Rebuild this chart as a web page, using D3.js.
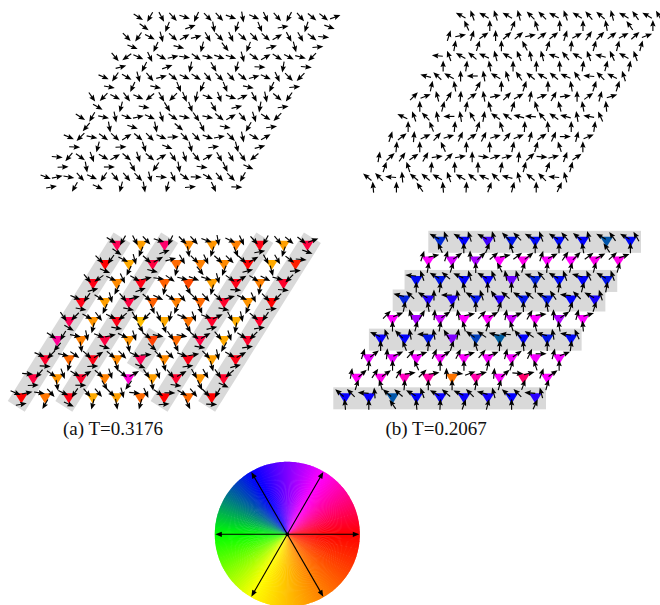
<!DOCTYPE html>
<html><head><meta charset="utf-8">
<style>html,body{margin:0;padding:0;background:#fff}svg{display:block}text{font-family:"Liberation Serif",serif}</style>
<script src="https://cdnjs.cloudflare.com/ajax/libs/d3/7.8.5/d3.min.js"></script>
</head><body><div id="chart"></div>
<script>
// Spin directions in degrees (counter-clockwise from east), rows bottom to top.
const spinPairsA = [
[-22,12,-10,-48,-25,-125,-50,-50,-45,-75,-5,-65,-35,-2,-30,-50,-45,-120],
[-5,-130,-35,-70,-30,30,-40,-72,-40,30,-55,-72,-50,30,-60,-60,-55,-140],
[-23,-135,-12,-35,-42,32,-40,-45,-25,3,-45,-45,-20,10,-45,-78,-30,30],
[-32,-120,-12,-78,-22,12,-25,-72,-35,-12,-55,-12,-40,30,-50,-72,-32,-135],
[-55,-135,-28,-53,-25,-140,-60,-135,-68,-102,-22,-70,-20,25,-62,-78,-40,-125],
[-23,-125,-30,-75,-50,15,-40,-25,-32,-50,-45,-48,-40,16,-25,-65,-45,-135],
[-50,-145,-25,-65,-30,13,-8,-35,-14,-20,-18,-75,-35,30,-32,-28,-15,-135],
[-45,-125,-28,-75,-42,30,15,-60,-45,-65,-42,-45,-42,30,-62,-60,-38,-5],
[-32,-120,-62,-47,-18,-115,-45,-47,-20,-80,-25,-65,-48,-118,-50,-40,-38,20]
];
const spinLowerA = [
[10,-120,-25,-105,-80,-105,5,-65,-2],
[3,-80,0,-60,-125,-80,-8,-65,-25],
[-3,-105,3,-72,-22,-75,8,-75,15],
[-130,-80,-18,-78,-40,-65,-10,-120,8],
[-30,-105,-10,-58,-70,-60,14,-100,8],
[-10,-115,-12,-68,-113,-68,-12,-115,5],
[15,-117,20,-102,-60,-105,-3,-100,-5],
[-22,-115,-15,-105,-52,-112,15,-75,5],
[-35,-112,20,-80,-108,-68,10,-108,-20]
];
const spinPairsB = [
[140,135,175,95,140,140,150,110,150,140,155,135,165,105,140,135,175,105],
[80,42,55,35,60,8,45,10,90,-8,20,15,85,42,-5,15,70,35],
[72,38,85,25,48,18,65,35,63,17,50,22,75,35,65,0,75,22],
[155,110,135,100,180,100,120,80,145,145,165,175,130,145,165,100,170,115],
[45,22,105,60,85,35,100,12,45,30,80,22,60,7,90,35,75,17],
[165,137,150,90,180,100,150,108,125,140,150,140,155,125,175,135,152,108],
[175,110,150,140,155,105,150,112,100,105,160,130,150,110,165,115,150,110],
[72,12,72,35,90,42,40,12,37,38,72,28,55,45,37,28,42,20],
[152,110,150,108,150,105,135,135,152,110,148,130,140,105,150,125,150,120]
];
const spinLowerB = [
[95,90,125,95,87,70,75,90,65],
[72,108,85,90,90,80,75,70,75],
[85,90,115,90,90,78,73,108,90],
[90,112,85,72,108,87,95,90,82],
[90,75,80,105,72,108,105,100,95],
[78,100,62,90,72,90,100,72,72],
[90,82,100,90,90,92,82,75,80],
[80,72,90,118,72,85,75,75,75],
[115,90,68,108,90,90,100,125,90]
];
// Triangle colours expressed as an angle on the colour wheel, rows bottom to top.
const wheelAngleA = [
[0,305,5,280,285,310,0,310,0],
[15,290,10,300,50,285,10,290,10],
[10,310,5,295,20,295,5,285,5],
[35,300,15,290,330,310,15,280,10],
[20,290,5,270,280,305,10,278,10],
[5,285,15,315,300,310,10,290,0],
[5,295,5,315,325,285,5,300,10],
[0,280,15,310,300,295,0,280,345],
[20,285,25,295,290,300,5,285,15]
];
const wheelAngleB = [
[118,118,140,120,118,118,115,120,110],
[58,55,45,40,305,40,60,25,60],
[65,65,62,62,60,62,62,62,62],
[118,120,125,90,135,142,120,125,122],
[60,80,72,60,60,72,60,78,60],
[128,112,112,125,110,125,125,120,115],
[122,125,120,118,95,128,122,120,125],
[60,70,80,60,55,60,60,55,55],
[130,120,105,125,122,122,120,140,122]
];
const bandColumnsA = [0,2,6,8];
const partialBandColumnA = 4, partialBandRowsA = [2,3];
const bandRowsB = [0,3,5,6,8];
const wheelStops = [0,60,120,180,240,360];
const wheelColors = ["#ff0000","#ff00ff","#0000ff","#00ff00","#ffff00","#ff0000"];
const wheelArrows = [0,60,120,180,240,300];
const captions = ["(a) T=0.3176","(b) T=0.2067"];

const W=660,H=605;
const svg=d3.select("#chart").append("svg").attr("width",W).attr("height",H).attr("viewBox",`0 0 ${W} ${H}`);
const wheelColor=d3.scaleLinear().domain(wheelStops).range(wheelColors).interpolate(d3.interpolateRgb);
const norm=a=>((a%360)+360)%360;
const rowScale=(y0,dy)=>d3.scaleLinear().domain([0,8]).range([y0,y0+8*dy]);
const idx=d3.range(9);

function arrow(g,x,y,deg,L=11,hl=6.6,hw=2.7,sw=1.15){
  const p=d3.path();
  p.moveTo(L/2,0);p.lineTo(L/2-hl,-hw);p.lineTo(L/2-hl+1,0);p.lineTo(L/2-hl,hw);p.closePath();
  const a=g.append("g").attr("transform",`translate(${x},${y}) rotate(${-deg})`);
  a.append("line").attr("x1",-L/2).attr("x2",L/2-hl+1.2).attr("y1",0).attr("y2",0).attr("stroke","#000").attr("stroke-width",sw);
  a.append("path").attr("d",p.toString()).attr("fill","#000");
}

function lattice(x0,dx,shift,y0,dy,pairs,lower){
  const g=svg.append("g");
  const ys=rowScale(y0,dy);
  const xs=d3.scaleLinear().domain([0,1]).range([x0,x0+dx]);
  idx.forEach(j=>idx.forEach(i=>{
    const cellX=v=>xs(i+j*shift/dx+v);
    arrow(g,cellX(0),ys(j),pairs[j][2*i]);
    arrow(g,cellX(0.5),ys(j),pairs[j][2*i+1]);
    arrow(g,cellX(0.25),ys(j)+dy/2*-1,lower[j][i]);
  }));
}
// rows run upward: dy negative; the lower site sits half a row below its pair
lattice(45.7,23.17,11.58,177,-20,spinPairsA,spinLowerA);
lattice(367.3,23.3,11.67,177,-20.2,spinPairsB,spinLowerB);

function triangles(x0,dx,shift,y0,dy,pairs,lower,hues,drawBands){
  const ys=rowScale(y0,dy);
  const xs=d3.scaleLinear().domain([0,8]).range([x0,x0+8*dx]);
  const cx=(i,j)=>xs(i)+j*shift;
  const gb=svg.append("g"); drawBands(gb,cx,ys);
  const gt=svg.append("g"), ga=svg.append("g");
  idx.forEach(j=>idx.forEach(i=>{
    const X=cx(i,j),Y=ys(j);
    gt.append("path").attr("d",d3.line()([[X-6.4,Y-5],[X+6.4,Y-5],[X,Y+5.2]])+"Z")
      .attr("fill",wheelColor(norm(hues[j][i])));
    arrow(ga,X-5.6,Y-5.4,pairs[j][2*i]);
    arrow(ga,X+5.8,Y-5.4,pairs[j][2*i+1]);
    arrow(ga,X,Y+6,lower[j][i]);
  }));
}
const GRAY="#d9d9d9";
triangles(21.3,23.8,11.96,398.3,-19.06,spinPairsA,spinLowerA,wheelAngleA,(g,cx,ys)=>{
  const ext=9.5, ux=11.96/22.5, uy=19.06/22.5;
  const bar=(col,r0,r1)=>g.append("line")
    .attr("x1",cx(col,r0)-ux*ext).attr("y1",ys(r0)+uy*ext)
    .attr("x2",cx(col,r1)+ux*ext).attr("y2",ys(r1)-uy*ext)
    .attr("stroke",GRAY).attr("stroke-width",20);
  bandColumnsA.forEach(c=>bar(c,0,8));
  bar(partialBandColumnA,partialBandRowsA[0],partialBandRowsA[1]);
});
triangles(345,23.8,11.875,398.3,-19.56,spinPairsB,spinLowerB,wheelAngleB,(g,cx,ys)=>{
  bandRowsB.forEach(r=>g.append("rect").attr("x",cx(0,r)-11.7).attr("y",ys(r)-11).attr("width",212.7).attr("height",22).attr("fill",GRAY));
});

svg.selectAll("text.cap").data(captions).join("text").attr("class","cap")
  .attr("x",(d,i)=>[63,385.5][i]).attr("y",435).attr("font-size",19).attr("fill","#111").text(d=>d);

// colour wheel
const CX=287.3,CY=534.3,R=72.5;
const wheel=svg.append("g").attr("transform",`translate(${CX},${CY})`);
const arc=d3.arc().innerRadius(0).outerRadius(R);
d3.range(0,360,1).forEach(a=>{
  // d3 arc angles are clockwise from north; each wedge overlaps the next to hide seams
  const s=(90-a-1.6)*Math.PI/180,e=(90-a)*Math.PI/180;
  wheel.append("path").attr("d",arc({startAngle:s,endAngle:e}))
    .attr("fill",wheelColor(a+0.5));
});
wheelArrows.forEach(a=>{
  const rad=a*Math.PI/180,r=72,hl=6.5,hw=2.6;
  wheel.append("line").attr("x1",0).attr("y1",0)
    .attr("x2",(r-hl+1)*Math.cos(rad)).attr("y2",-(r-hl+1)*Math.sin(rad))
    .attr("stroke","#000").attr("stroke-width",1.1);
  const g=wheel.append("g").attr("transform",`rotate(${-a})`);
  const p=d3.path();p.moveTo(r,0);p.lineTo(r-hl,-hw);p.lineTo(r-hl,hw);p.closePath();
  g.append("path").attr("d",p.toString()).attr("fill","#000");
});
wheel.append("circle").attr("r",1.9).attr("fill","#000");
</script></body></html>
